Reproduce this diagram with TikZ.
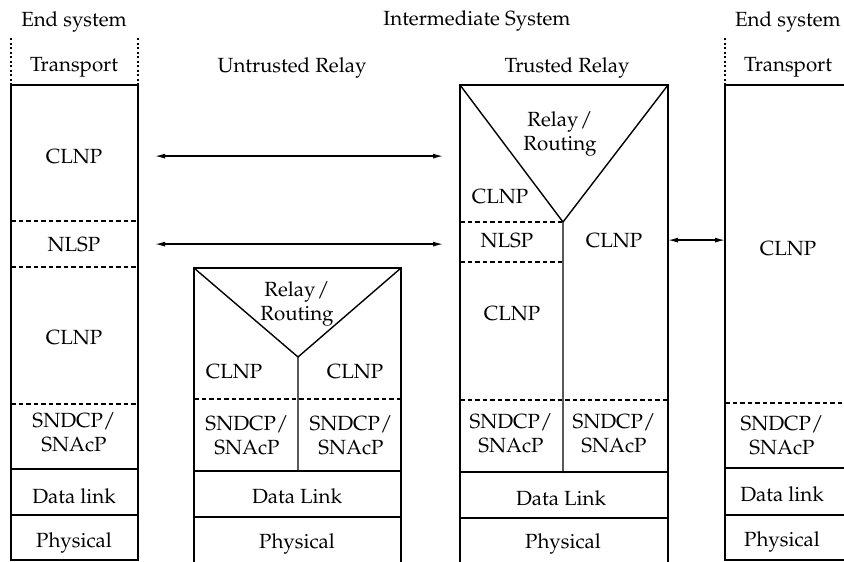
\documentclass[tikz,border=0pt]{standalone}
\usepackage[T1]{fontenc}
\usepackage{mathpazo}
\usetikzlibrary{arrows.meta}
\begin{document}
\begin{tikzpicture}[x=1pt,y=-1pt,
  lbl/.style={anchor=base, inner sep=0pt, font=\fontsize{20.5}{24}\selectfont},
  lbl2/.style={lbl, align=center},
  edge/.style={line width=1.4pt},
  sep/.style={line width=1.2pt, dash pattern=on 4.5pt off 3pt},
  dots/.style={line width=1.2pt, dash pattern=on 2pt off 2.5pt},
  link/.style={line width=1.3pt, {Latex[length=10pt,width=5pt]}-{Latex[length=10pt,width=5pt]}},
  body/.style={draw=none, inner sep=0pt, outer sep=0pt, anchor=north west}
]
\useasboundingbox (0,0) rectangle (844,562);
\clip (0,0) rectangle (844,562);

% ---------- stack bodies (used as anchors for the connectors)
\node[body, minimum width=127pt, minimum height=475pt] (esA) at (11,85) {};
\node[body, minimum width=207pt, minimum height=294pt] (urA) at (194,268) {};
\node[body, minimum width=208pt, minimum height=477pt] (trA) at (460,85) {};
\node[body, minimum width=175pt, minimum height=475pt] (esB) at (725,85) {};

% ---------- left end system
\draw[edge] (esA.north west) rectangle (esA.south east);
\draw[dots] (11,38) -- (11,85) (138,38) -- (138,85);
\draw[sep] (11,221) -- (138,221) (11,267) -- (138,267) (11,404) -- (138,404);
\draw[edge] (11,469) -- (138,469) (11,515) -- (138,515);

% ---------- untrusted relay
\draw[edge] (urA.south west) -- (urA.north west) -- (urA.north east) -- (urA.south east);
\draw[edge] (194,268) -- (298,357) -- (401,268) (298,357) -- (298,471);
\draw[sep] (194,399) -- (401,399);
\draw[edge] (194,471) -- (401,471) (194,517) -- (401,517);

% ---------- trusted relay
\draw[edge] (trA.south west) -- (trA.north west) -- (trA.north east) -- (trA.south east);
\draw[edge] (460,85) -- (563,222) -- (668,85) (563,222) -- (563,473);
\draw[sep] (460,222) -- (563,222) (460,262) -- (563,262) (460,400) -- (668,400);
\draw[edge] (460,472) -- (668,472) (460,518) -- (668,518);

% ---------- right end system
\draw[edge] (esB.south east) -- (esB.south west) -- (esB.north west) -- (esB.north east);
\draw[dots] (725,38) -- (725,85);
\draw[sep] (725,403) -- (844,403);
\draw[edge] (725,468) -- (900,468) (725,515) -- (900,515);

% ---------- headings
\node[lbl] (hEsA) at (74,26) {End system};
\node[lbl] (hIs) at (477,25) {Intermediate System};
\node[lbl, anchor=base west] (hEsB) at (735,26) {End system};
\node[lbl] (tpA) at (74,71) {Transport};
\node[lbl] (hUr) at (292,72) {Untrusted Relay};
\node[lbl] (hTr) at (567,72) {Trusted Relay};
\node[lbl] (tpB) at (788,71) {Transport};

% ---------- left end system layers (two-line labels sit on their last baseline)
\node[lbl] (lclnp) at (74,163) {CLNP};
\node[lbl] (lnlsp) at (74,251) {NLSP};
\node[lbl] (lclnpB) at (74,344) {CLNP};
\node[lbl2] (lsnd) at (74,451) {SNDCP/\\SNAcP};
\node[lbl] (ldl) at (74,503) {Data link};
\node[lbl] (lph) at (74,547) {Physical};

% ---------- untrusted relay layers
\node[lbl2] (urelay) at (297,320) {Relay\kern1.5pt/\\Routing};
\node[lbl] (uclnpL) at (234,378) {CLNP};
\node[lbl] (uclnpR) at (355,378) {CLNP};
\node[lbl2] (usndL) at (247,454) {SNDCP/\\SNAcP};
\node[lbl2] (usndR) at (351,454) {SNDCP/\\SNAcP};
\node[lbl] (udl) at (297,503) {Data Link};
\node[lbl] (uph) at (297,548) {Physical};

% ---------- trusted relay layers
\node[lbl2] (trelay) at (560,150) {Relay\kern1.5pt/\\Routing};
\node[lbl] (tclnpU) at (500,203) {CLNP};
\node[lbl] (tnlsp) at (507,247) {NLSP};
\node[lbl] (tclnpR) at (614,247) {CLNP};
\node[lbl] (tclnpL) at (512,320) {CLNP};
\node[lbl2] (tsndL) at (511,452) {SNDCP/\\SNAcP};
\node[lbl2] (tsndR) at (614,452) {SNDCP/\\SNAcP};
\node[lbl] (tdl) at (561,505) {Data Link};
\node[lbl] (tph) at (563,548) {Physical};

% ---------- right end system layers
\node[lbl] (rclnp) at (788,255) {CLNP};
\node[lbl2] (rsnd) at (782,454) {SNDCP/\\SNAcP};
\node[lbl] (rdl) at (782,501) {Data link};
\node[lbl] (rph) at (782,546) {Physical};

% ---------- peer relations
\draw[link, shorten <=17pt, shorten >=17pt] (esA.east |- lclnp.center) -- (trA.west |- lclnp.center);
\draw[link, shorten <=17pt, shorten >=17pt] (esA.east |- lnlsp.center) -- (trA.west |- lnlsp.center);
\draw[link] (trA.east |- tnlsp.center) -- (esB.west |- tnlsp.center);
\end{tikzpicture}
\end{document}
